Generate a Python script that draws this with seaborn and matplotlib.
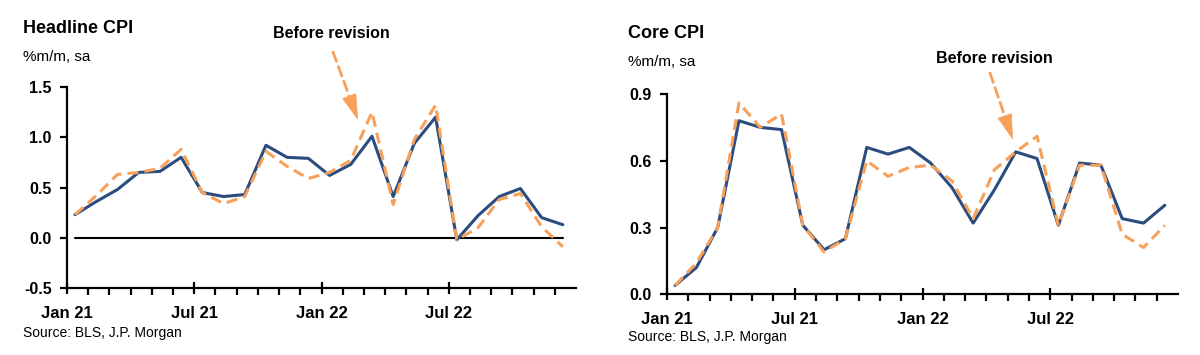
import numpy as np
import pandas as pd
import matplotlib
matplotlib.use("Agg")
import matplotlib.pyplot as plt
import seaborn as sns

# ---------------- data ----------------
months = pd.date_range("2021-01-01", periods=24, freq="MS")
tick_labels = ["Jan 21", "Jul 21", "Jan 22", "Jul 22"]

headline_revised = [0.23, 0.36, 0.48, 0.65, 0.66, 0.80, 0.45, 0.41, 0.43, 0.92, 0.80, 0.79,
                    0.62, 0.73, 1.01, 0.41, 0.94, 1.20, -0.02, 0.22, 0.41, 0.49, 0.20, 0.13]
headline_before = [0.23, 0.42, 0.63, 0.65, 0.69, 0.88, 0.45, 0.34, 0.41, 0.86, 0.71, 0.59,
                   0.65, 0.77, 1.25, 0.33, 0.98, 1.32, -0.02, 0.10, 0.38, 0.44, 0.11, -0.09]

core_revised = [0.04, 0.12, 0.30, 0.78, 0.75, 0.74, 0.31, 0.20, 0.25, 0.66, 0.63, 0.66,
                0.59, 0.48, 0.32, 0.47, 0.64, 0.61, 0.31, 0.59, 0.58, 0.34, 0.32, 0.40]
core_before = [0.04, 0.14, 0.30, 0.86, 0.75, 0.81, 0.31, 0.19, 0.25, 0.60, 0.53, 0.57,
               0.58, 0.51, 0.34, 0.56, 0.64, 0.71, 0.31, 0.58, 0.58, 0.27, 0.21, 0.31]

# ---------------- style ----------------
sns.set_theme(style="white")
plt.rcParams["font.family"] = ["Liberation Sans", "DejaVu Sans"]
plt.rcParams["text.color"] = "black"
plt.rcParams["xtick.color"] = "black"
plt.rcParams["ytick.color"] = "black"
plt.rcParams["axes.labelcolor"] = "black"

BLUE = "#2B4C7E"
ORANGE = "#F7A05A"
DASH = (0, (3.6, 2.0))

fig = plt.figure(figsize=(12, 3.55), dpi=100)

n = len(months)
xpos = np.arange(n) + 0.38  # data points sit inside each month interval


def style_axis(ax, ylim, yticks, yfmt):
    ax.set_xlim(0, n)
    ax.set_ylim(*ylim)
    for s in ["top", "right"]:
        ax.spines[s].set_visible(False)
    for s in ["left", "bottom"]:
        ax.spines[s].set_linewidth(1.6)
        ax.spines[s].set_color("black")
    ax.set_yticks(yticks)
    ax.set_yticklabels([yfmt.format(v) for v in yticks], fontweight="bold", fontsize=11.5)
    major = [0, 6, 12, 18]
    ax.set_xticks(major)
    ax.set_xticklabels(tick_labels, fontweight="bold", fontsize=12)
    ax.set_xticks([i for i in range(1, n) if i not in major], minor=True)
    ax.tick_params(axis="x", which="major", direction="inout", length=9, width=1.6,
                   bottom=True, pad=8.5)
    ax.tick_params(axis="x", which="minor", direction="out", length=5, width=1.6,
                   bottom=True)
    ax.tick_params(axis="y", which="major", direction="out", length=5, width=1.6,
                   left=True, pad=6)
    ax.grid(False)
    ax.set_xlabel("")
    ax.set_ylabel("")
    ax.set_facecolor("white")


# ---------------- left: headline ----------------
ax1 = fig.add_axes([67 / 1200, 1 - 288 / 355, (576 - 67) / 1200, (288 - 87) / 355])
sns.lineplot(x=xpos, y=[0.0] * n, ax=ax1, color="black", linewidth=1.5)
sns.lineplot(x=xpos, y=headline_revised, ax=ax1, color=BLUE, linewidth=2.2)
sns.lineplot(x=xpos, y=headline_before, ax=ax1, color=ORANGE, linewidth=2.2, linestyle=DASH)
style_axis(ax1, (-0.5, 1.5), [-0.5, 0.0, 0.5, 1.0, 1.5], "{:.1f}")

# ---------------- right: core ----------------
ax2 = fig.add_axes([667 / 1200, 1 - 294.3 / 355, (1178 - 667) / 1200, (294.3 - 94) / 355])
sns.lineplot(x=xpos, y=core_revised, ax=ax2, color=BLUE, linewidth=2.2)
sns.lineplot(x=xpos, y=core_before, ax=ax2, color=ORANGE, linewidth=2.2, linestyle=DASH)
style_axis(ax2, (0.0, 0.9), [0.0, 0.3, 0.6, 0.9], "{:.1f}")

# ---------------- texts ----------------
fig.text(23 / 1200, 1 - 33 / 355, "Headline CPI", fontsize=13, fontweight="bold", va="baseline")
fig.text(23 / 1200, 1 - 61 / 355, "%m/m, sa", fontsize=11, va="baseline")
fig.text(23 / 1200, 1 - 337 / 355, "Source: BLS, J.P. Morgan", fontsize=10, va="baseline")

fig.text(628 / 1200, 1 - 38 / 355, "Core CPI", fontsize=13, fontweight="bold", va="baseline")
fig.text(628 / 1200, 1 - 66.5 / 355, "%m/m, sa", fontsize=11, va="baseline")
fig.text(628 / 1200, 1 - 341.5 / 355, "Source: BLS, J.P. Morgan", fontsize=10, va="baseline")

fig.text(331 / 1200, 1 - 38 / 355, "Before revision", fontsize=11.5, fontweight="bold",
         ha="center", va="baseline")
fig.text(994 / 1200, 1 - 63 / 355, "Before revision", fontsize=11.5, fontweight="bold",
         ha="center", va="baseline")


def dashed_arrow(ax, tail, tip, head_px=20):
    tail = np.array([tail[0], 355 - tail[1]], dtype=float)
    tip = np.array([tip[0], 355 - tip[1]], dtype=float)
    d = tip - tail
    d = d / np.hypot(*d)
    neck = tip - d * head_px
    ax.annotate("", xy=tuple(neck), xycoords="figure pixels", xytext=tuple(tail),
                textcoords="figure pixels", annotation_clip=False,
                arrowprops=dict(arrowstyle="-", color=ORANGE, lw=2, linestyle=DASH,
                                shrinkA=0, shrinkB=0))
    ax.annotate("", xy=tuple(tip), xycoords="figure pixels", xytext=tuple(neck + d * 2),
                textcoords="figure pixels", annotation_clip=False,
                arrowprops=dict(arrowstyle="-|>,head_length=1.45,head_width=0.42",
                                color=ORANGE, lw=0.5, shrinkA=0, shrinkB=0))


dashed_arrow(ax1, (333, 52), (358, 120))
dashed_arrow(ax2, (990, 73), (1013, 140))

fig.savefig("out.png", dpi=100, facecolor="white")
